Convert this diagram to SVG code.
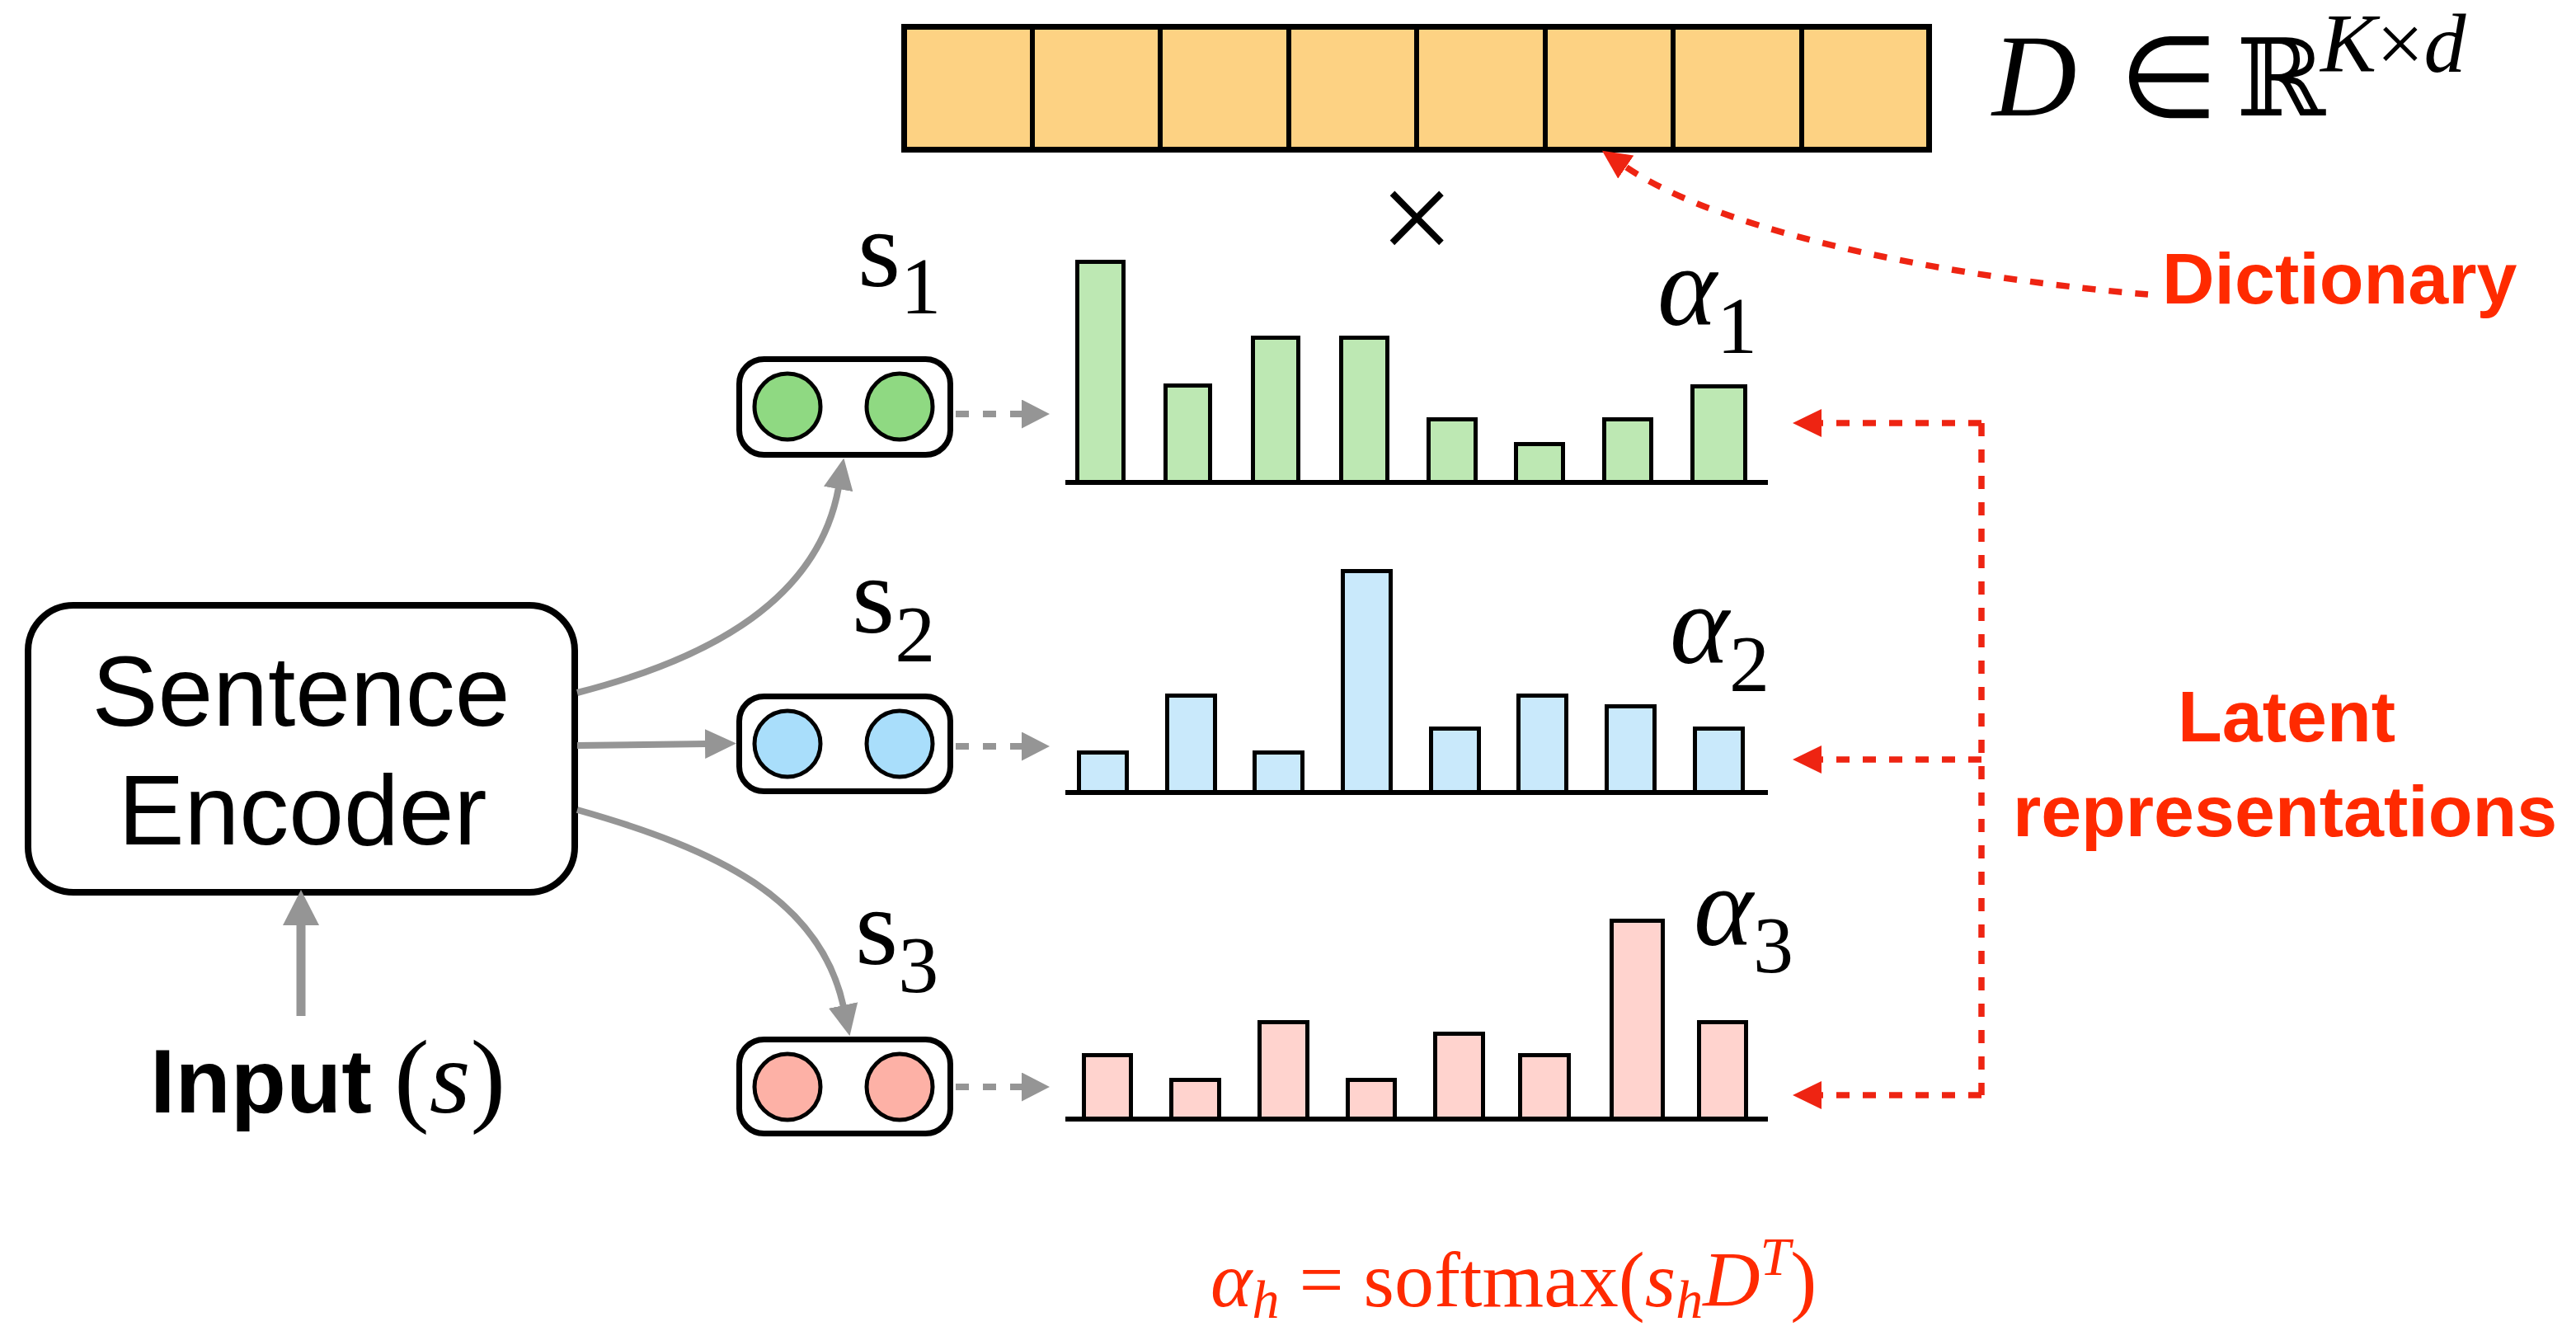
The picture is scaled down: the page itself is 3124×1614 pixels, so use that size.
<svg xmlns="http://www.w3.org/2000/svg" width="3124" height="1614" viewBox="0 0 3124 1614">
<style>
.sans{font-family:"Liberation Sans",Arial,sans-serif}
.serif{font-family:"Liberation Serif","Times New Roman",serif}
.red{fill:#FF2A00}
.box{fill:#fff;stroke:#000;stroke-width:7}
.circ{stroke:#000;stroke-width:5}
.bar{stroke:#000;stroke-width:5}
.axis{stroke:#000;stroke-width:6}
.gray{fill:none;stroke:#959595;stroke-width:8}
.gdash{fill:none;stroke:#959595;stroke-width:8;stroke-dasharray:16 17}
.rdash{fill:none;stroke:#EE2412;stroke-width:7.5;stroke-dasharray:16 16}
.g1{fill:#BDE8B3}.g2{fill:#C9E9FB}.g3{fill:#FFD3CE}
</style>
<defs>
<marker id="ag" markerUnits="userSpaceOnUse" markerWidth="38" markerHeight="36" viewBox="0 0 38 36" refX="2" refY="18" orient="auto">
<path d="M0,0 L38,18 L0,36 z" fill="#959595"/>
</marker>
<marker id="agd" markerUnits="userSpaceOnUse" markerWidth="34" markerHeight="35" viewBox="0 0 34 35" refX="1" refY="17.5" orient="auto">
<path d="M0,0 L34,17.5 L0,35 z" fill="#959595"/>
</marker>
<marker id="agv" markerUnits="userSpaceOnUse" markerWidth="43" markerHeight="44" viewBox="0 0 43 44" refX="1" refY="22" orient="auto">
<path d="M0,0 L43,22 L0,44 z" fill="#959595"/>
</marker>
<marker id="ar" markerUnits="userSpaceOnUse" markerWidth="35" markerHeight="34" viewBox="0 0 35 34" refX="1" refY="17" orient="auto">
<path d="M0,0 L35,17 L0,34 z" fill="#EE2412"/>
</marker>
</defs>

<g id="dictionary">
<rect x="1096.5" y="32.5" width="1243" height="149" fill="#FDD283" stroke="#000" stroke-width="7"/>
<g stroke="#000" stroke-width="6">
<line x1="1252" y1="32" x2="1252" y2="182"/>
<line x1="1407" y1="32" x2="1407" y2="182"/>
<line x1="1563" y1="32" x2="1563" y2="182"/>
<line x1="1718" y1="32" x2="1718" y2="182"/>
<line x1="1874" y1="32" x2="1874" y2="182"/>
<line x1="2029" y1="32" x2="2029" y2="182"/>
<line x1="2185" y1="32" x2="2185" y2="182"/>
</g>
<text class="serif" x="2416" y="140" font-size="142" font-style="italic">D</text>
<text x="2570" y="142" font-size="138" font-family="DejaVu Sans, sans-serif">∈</text>
<text x="2712" y="140" font-size="130" font-family="DejaVu Serif, serif">ℝ</text>
<text class="serif" x="2814" y="87" font-size="102"><tspan font-style="italic">K</tspan>×<tspan font-style="italic">d</tspan></text>
</g>

<text class="serif" x="1718" y="318" font-size="160" text-anchor="middle">×</text>

<g id="encoder">
<rect x="34" y="734" width="663" height="348" rx="55" fill="#fff" stroke="#000" stroke-width="8"/>
<text class="sans" x="365" y="880" font-size="120" text-anchor="middle">Sentence</text>
<text class="sans" x="367" y="1024" font-size="120" text-anchor="middle">Encoder</text>
</g>

<g id="input">
<text class="sans" x="182" y="1349" font-size="110" font-weight="bold">Input</text>
<text class="serif" x="478" y="1349" font-size="128">(<tspan font-style="italic">s</tspan>)</text>
</g>

<g id="node-s1">
<rect class="box" x="896.5" y="435.5" width="256" height="116" rx="30"/>
<circle class="circ" cx="955" cy="493" r="40" fill="#8FD982"/>
<circle class="circ" cx="1091" cy="493" r="40" fill="#8FD982"/>
<text class="serif" x="1040" y="347" font-size="134">s<tspan font-size="98" dy="33">1</tspan></text>
</g>
<g id="node-s2">
<rect class="box" x="896.5" y="844.5" width="256" height="115" rx="30"/>
<circle class="circ" cx="955" cy="902" r="40" fill="#A9DEFB"/>
<circle class="circ" cx="1091" cy="902" r="40" fill="#A9DEFB"/>
<text class="serif" x="1033" y="767" font-size="134">s<tspan font-size="98" dy="35">2</tspan></text>
</g>
<g id="node-s3">
<rect class="box" x="896.5" y="1260.5" width="256" height="114" rx="30"/>
<circle class="circ" cx="955" cy="1318" r="40" fill="#FDB1A6"/>
<circle class="circ" cx="1091" cy="1318" r="40" fill="#FDB1A6"/>
<text class="serif" x="1037" y="1169" font-size="134">s<tspan font-size="98" dy="34">3</tspan></text>
</g>

<g id="alpha1">
<g class="bar g1">
<rect x="1306.5" y="317.5" width="56" height="267.5"/>
<rect x="1413.5" y="467.5" width="54" height="117.5"/>
<rect x="1519.5" y="409.5" width="55" height="175.5"/>
<rect x="1626.5" y="409.5" width="56" height="175.5"/>
<rect x="1732.5" y="508.5" width="57" height="76.5"/>
<rect x="1838.5" y="538.5" width="57" height="46.5"/>
<rect x="1945.5" y="508.5" width="57" height="76.5"/>
<rect x="2052.5" y="468.5" width="64" height="116.5"/>
</g>
<line class="axis" x1="1292" y1="585" x2="2144" y2="585"/>
<text class="serif" x="2010" y="394" font-size="137" font-style="italic">α<tspan font-style="normal" font-size="98" dy="34">1</tspan></text>
</g>

<g id="alpha2">
<g class="bar g2">
<rect x="1308.5" y="912.5" width="58" height="48.5"/>
<rect x="1415.5" y="843.5" width="58" height="117.5"/>
<rect x="1521.5" y="912.5" width="58" height="48.5"/>
<rect x="1628.5" y="692.5" width="58" height="268.5"/>
<rect x="1735.5" y="883.5" width="58" height="77.5"/>
<rect x="1841.5" y="843.5" width="58" height="117.5"/>
<rect x="1948.5" y="856.5" width="58" height="104.5"/>
<rect x="2055.5" y="883.5" width="58" height="77.5"/>
</g>
<line class="axis" x1="1292" y1="961" x2="2144" y2="961"/>
<text class="serif" x="2025" y="804" font-size="137" font-style="italic">α<tspan font-style="normal" font-size="98" dy="34">2</tspan></text>
</g>

<g id="alpha3">
<g class="bar g3">
<rect x="1314.5" y="1279.5" width="57" height="77.5"/>
<rect x="1420.5" y="1309.5" width="58" height="47.5"/>
<rect x="1527.5" y="1239.5" width="58" height="117.5"/>
<rect x="1634.5" y="1309.5" width="57" height="47.5"/>
<rect x="1740.5" y="1253.5" width="58" height="103.5"/>
<rect x="1843.5" y="1279.5" width="59" height="77.5"/>
<rect x="1954.5" y="1116.5" width="62" height="240.5"/>
<rect x="2060.5" y="1239.5" width="57" height="117.5"/>
</g>
<line class="axis" x1="1292" y1="1357" x2="2144" y2="1357"/>
<text class="serif" x="2054" y="1146" font-size="137" font-style="italic">α<tspan font-style="normal" font-size="98" dy="33">3</tspan></text>
</g>

<g id="labels">
<text class="sans red" x="2622" y="368" font-size="88" font-weight="bold">Dictionary</text>
<text class="sans red" x="2773" y="899" font-size="88" font-weight="bold" text-anchor="middle">Latent</text>
<text class="sans red" x="2771" y="1014" font-size="88" font-weight="bold" text-anchor="middle">representations</text>
<text class="serif red" x="1468" y="1584" font-size="96"><tspan font-style="italic">α</tspan><tspan font-style="italic" font-size="66" dy="14">h</tspan><tspan dy="-14"> = softmax(</tspan><tspan font-style="italic">s</tspan><tspan font-style="italic" font-size="66" dy="14">h</tspan><tspan font-style="italic" dy="-14">D</tspan><tspan font-style="italic" font-size="66" dy="-38">T</tspan><tspan dy="38">)</tspan></text>
</g>

<g id="connectors">
<path class="gray" d="M700,840 C865,798 993,725 1017,591" marker-end="url(#ag)"/>
<path class="gray" d="M700,904 L857,902" marker-end="url(#ag)"/>
<path class="gray" d="M700,982 C870,1030 995,1090 1023,1221" marker-end="url(#ag)"/>
<path d="M365,1232 L365,1121" fill="none" stroke="#959595" stroke-width="11" marker-end="url(#agv)"/>
<path class="gdash" d="M1159,502 L1240,502" marker-end="url(#agd)"/>
<path class="gdash" d="M1159,905 L1240,905" marker-end="url(#agd)"/>
<path class="gdash" d="M1159,1318 L1240,1318" marker-end="url(#agd)"/>
<path class="rdash" d="M2605,357 C2400,340 2100,290 1971,202" marker-end="url(#ar)"/>
<path class="rdash" d="M2403,513 L2403,1328"/>
<path class="rdash" d="M2403,513 L2208,513" marker-end="url(#ar)"/>
<path class="rdash" d="M2403,921 L2208,921" marker-end="url(#ar)"/>
<path class="rdash" d="M2403,1328 L2208,1328" marker-end="url(#ar)"/>
</g>
</svg>
